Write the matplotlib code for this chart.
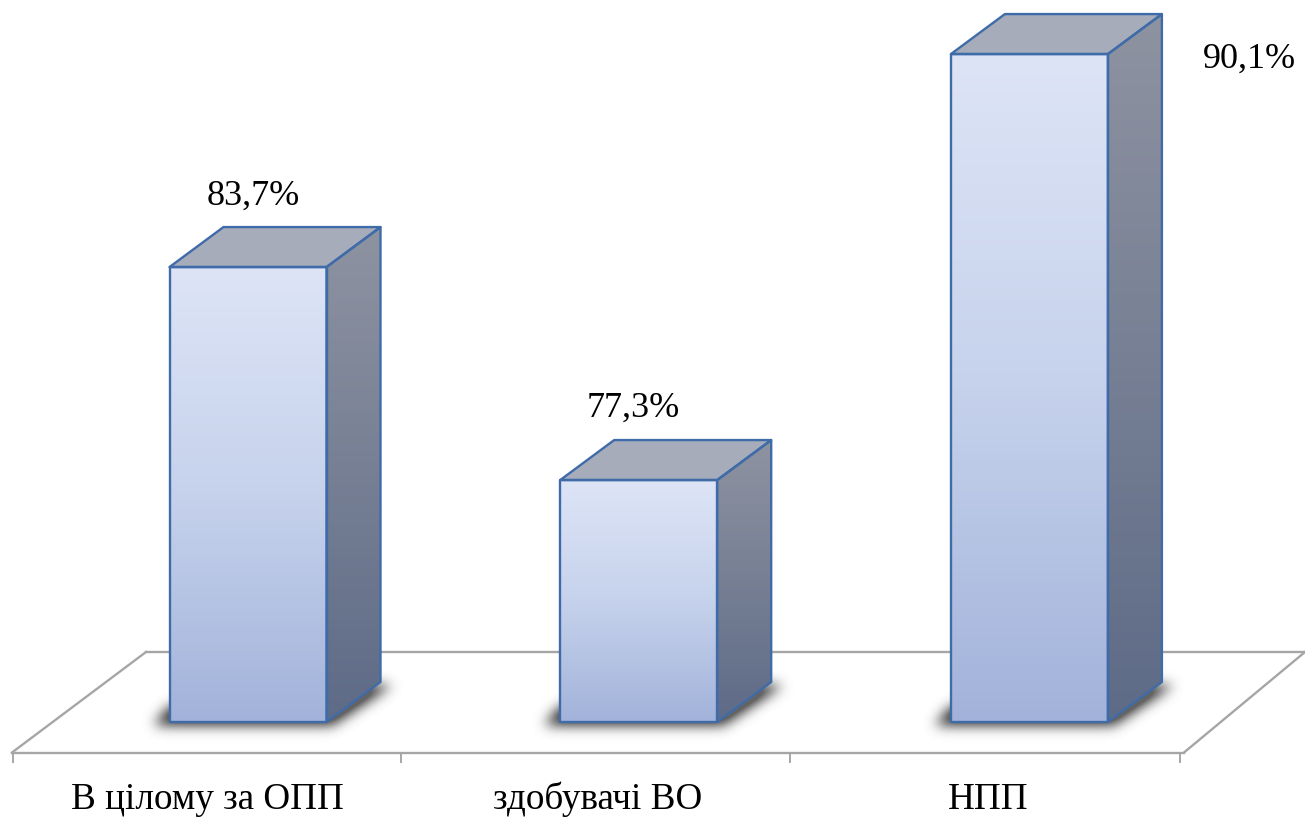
#!/usr/bin/env python3
import matplotlib
matplotlib.use("Agg")
import matplotlib.pyplot as plt
import numpy as np
from matplotlib.colors import LinearSegmentedColormap
from matplotlib.patches import Polygon
from matplotlib.path import Path

CATEGORIES = ["В цілому за ОПП", "здобувачі ВО", "НПП"]
VALUES = [83.7, 77.3, 90.1]
VALUE_LABELS = ["83,7%", "77,3%", "90,1%"]

# picture scale: pixels per category step / per percentage point
W, H = 1305, 817
PX_X = 390.7
PX_Y = 33.28
X0_PX = 248.0
BASE = 70.03
BASE_PX = 722.0

HALF = 78.5 / PX_X
DX = 54 / PX_X
DY = 40 / PX_Y

# tweaks of text positions, in category units
LABEL_X = -41 / PX_X
VALUE_X = [5 / PX_X, -5.5 / PX_X, 220 / PX_X]
VALUE_DY = [62 / PX_Y, 63 / PX_Y, -14 / PX_Y]

EDGE = "#3F6BA9"
FLOOR = "#A6A6A6"
FRONT = LinearSegmentedColormap.from_list("front", ["#DDE4F6", "#C6D2EC", "#A2B2DA"])
SIDE = LinearSegmentedColormap.from_list("side", ["#8E93A1", "#5E6B87"])
TOP = "#A6ACBA"


def px_x(p):
    return (p - X0_PX) / PX_X


def px_y(p):
    return BASE + (BASE_PX - p) / PX_Y


def blur(a, sigma):
    r = int(3 * sigma)
    k = np.exp(-0.5 * (np.arange(-r, r + 1) / sigma) ** 2)
    k /= k.sum()
    a = np.apply_along_axis(lambda v: np.convolve(v, k, mode="same"), 0, a)
    a = np.apply_along_axis(lambda v: np.convolve(v, k, mode="same"), 1, a)
    return a


def gradient_face(ax, pts, cmap, zorder):
    pts = np.array(pts)
    poly = Polygon(pts, closed=True, facecolor="none", edgecolor="none", transform=ax.transData)
    ax.add_patch(poly)
    grad = np.linspace(0, 1, 256).reshape(-1, 1)
    im = ax.imshow(
        grad,
        cmap=cmap,
        aspect="auto",
        origin="upper",
        extent=(pts[:, 0].min(), pts[:, 0].max(), pts[:, 1].min(), pts[:, 1].max()),
        zorder=zorder,
    )
    im.set_clip_path(poly)


def draw_shadow(ax, i):
    # soft shadow on the floor, built on a pixel grid around the bar foot
    cx = X0_PX + i * PX_X
    left, right = cx - 78.5, cx + 78.5
    x0, x1 = int(left - 80), int(right + 140)
    y0, y1 = int(BASE_PX - 90), int(BASE_PX + 40)
    footprint = Path([
        (left - 16, BASE_PX + 2),
        (right + 6, BASE_PX + 2),
        (right + 66, BASE_PX - 38),
        (right + 20, BASE_PX - 38),
        (left, BASE_PX - 16),
    ])
    xx, yy = np.meshgrid(np.arange(x0, x1), np.arange(y0, y1))
    mask = footprint.contains_points(np.c_[xx.ravel(), yy.ravel()]).reshape(xx.shape)
    alpha = np.clip(blur(mask.astype(float), 6.5) * 1.25, 0, 0.85)
    rgba = np.zeros(alpha.shape + (4,))
    rgba[..., :3] = 0.28
    rgba[..., 3] = alpha
    ax.imshow(
        rgba,
        aspect="auto",
        origin="upper",
        extent=(px_x(x0), px_x(x1), px_y(y1), px_y(y0)),
        zorder=2,
    )


def draw_bar(ax, i, value):
    l, r = i - HALF, i + HALF
    front = [(l, BASE), (r, BASE), (r, value), (l, value)]
    side = [(r, BASE), (r + DX, BASE + DY), (r + DX, value + DY), (r, value)]
    top = [(l, value), (r, value), (r + DX, value + DY), (l + DX, value + DY)]

    gradient_face(ax, front, FRONT, 3)
    gradient_face(ax, side, SIDE, 3)
    ax.add_patch(Polygon(top, closed=True, facecolor=TOP, edgecolor="none", zorder=3))
    for pts in (front, side, top):
        ax.add_patch(Polygon(pts, closed=True, fill=False, edgecolor=EDGE, linewidth=1.7,
                             joinstyle="round", zorder=4))


def draw_floor(ax):
    xs = [146, 1305]
    ax.plot([px_x(p) for p in xs], [px_y(652)] * 2, color=FLOOR, lw=1.7, zorder=1)
    ax.plot([px_x(12), px_x(1184)], [px_y(752.5)] * 2, color=FLOOR, lw=1.7, zorder=1)
    ax.plot([px_x(12), px_x(146)], [px_y(752.5), px_y(652)], color=FLOOR, lw=1.7, zorder=1)
    ax.plot([px_x(1184), px_x(1305)], [px_y(752.5), px_y(652)], color=FLOOR, lw=1.7, zorder=1)
    for p in (12.5, 401, 790, 1180):
        ax.plot([px_x(p)] * 2, [px_y(752.5), px_y(762)], color=FLOOR, lw=1.4, zorder=1)


def main():
    plt.rcParams["font.family"] = ["Liberation Serif", "DejaVu Serif"]
    fig = plt.figure(figsize=(W / 100, H / 100), dpi=100)
    ax = fig.add_axes([0, 0, 1, 1])
    ax.axis("off")

    draw_floor(ax)
    for i, v in enumerate(VALUES):
        draw_shadow(ax, i)
        draw_bar(ax, i, v)
        ax.text(i + VALUE_X[i], v + VALUE_DY[i], VALUE_LABELS[i], ha="center", va="baseline",
                fontsize=26, color="#000000", zorder=5)
        ax.text(i + LABEL_X, px_y(809), CATEGORIES[i], ha="center", va="baseline",
                fontsize=26.7, color="#000000", zorder=5)

    ax.set_xlim(px_x(0), px_x(W))
    ax.set_ylim(px_y(H), px_y(0))
    fig.savefig("out.png", dpi=100)
    plt.close(fig)


if __name__ == "__main__":
    main()
